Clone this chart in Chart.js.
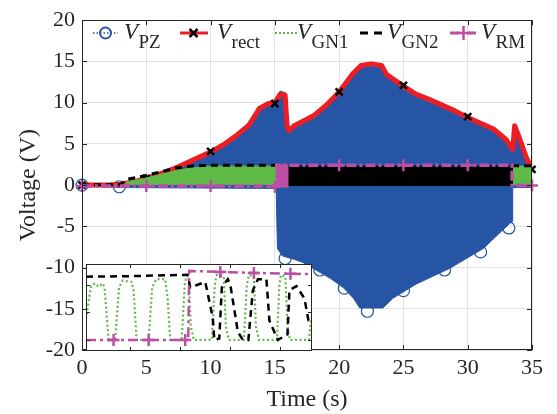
<!DOCTYPE html>
<html>
<head>
<meta charset="utf-8">
<script src="https://cdn.jsdelivr.net/npm/chart.js@4.4.1/dist/chart.umd.min.js"></script>
<style>
  html, body { margin: 0; padding: 0; background: #fff; }
  #wrap { position: relative; width: 557px; height: 414px; }
  #main { position: absolute; left: 0; top: 0; }
  #inset { position: absolute; left: 86px; top: 264px; background: #fff; }
</style>
</head>
<body>
<div id="wrap">
  <canvas id="main" width="557" height="414"></canvas>
  <canvas id="inset" width="226" height="87"></canvas>
</div>
<script>
// ---- main plot data (time in s, voltage in V) ----
// V_PZ is a dense oscillation, so it is kept as its upper / lower envelope
const pzTopT = [0, 2.5, 3, 4, 5, 6, 7, 8, 9, 10, 11, 12, 13, 13.8, 14.5, 15, 15.4, 15.8, 15.9, 16.0, 16.5, 17, 18, 19, 20, 21, 21.7, 22.5, 23.3, 23.7, 25, 26, 27, 28, 29, 30, 31, 32, 33, 33.5, 33.65, 34, 34.5, 35];
const pzTopV = [0, 0, 0.1, 0.4, 0.8, 1.2, 1.8, 2.4, 3.1, 3.8, 4.7, 5.8, 7.0, 9.0, 9.7, 10.0, 11.4, 11.2, 7.0, 6.3, 6.9, 7.3, 8.1, 9.4, 11.0, 13.1, 14.2, 14.4, 14.2, 13.1, 11.7, 10.7, 10.1, 9.4, 8.7, 7.9, 7.2, 6.5, 5.2, 4.0, 7.0, 5.5, 3.3, 1.5];
const pzBotT = [0, 3, 15.1, 15.2, 15.6, 16.5, 17.2, 18.3, 19.3, 20.3, 21.1, 21.6, 23.4, 24.2, 26, 28.6, 31.2, 33.3, 33.45, 33.5, 35];
const pzBotV = [0, -0.3, -0.4, -7.7, -8.6, -9.0, -9.4, -10.4, -11.3, -12.4, -13.7, -14.9, -14.9, -13.7, -12.0, -10.1, -7.7, -4.6, -4.4, -0.3, -0.3];
const pzMarkT = [0, 2.9, 15.8, 18.5, 20.4, 22.2, 25.0, 28.2, 31.0, 33.2];
const pzMarkV = [0, -0.2, -8.9, -10.3, -12.5, -15.3, -12.8, -10.3, -8.1, -5.2];

const rectT = [0, 2, 3, 4, 5, 6, 7, 8, 9, 10, 11, 12, 13, 13.8, 14.5, 15, 15.4, 15.8, 15.95, 16.1, 16.5, 17, 18, 19, 20, 21, 21.7, 22.5, 23.3, 23.7, 25, 26, 27, 28, 29, 30, 31, 32, 33, 33.5, 33.65, 34, 34.5, 35];
const rectV = [0, 0, 0.1, 0.4, 0.8, 1.3, 1.9, 2.6, 3.3, 4.0, 4.9, 6.0, 7.3, 9.3, 9.9, 10.0, 11.0, 10.9, 7.2, 6.6, 7.2, 7.6, 8.4, 9.7, 11.3, 13.4, 14.5, 14.7, 14.5, 13.4, 12.0, 11.0, 10.4, 9.7, 9.0, 8.2, 7.5, 6.8, 5.5, 4.3, 7.2, 5.8, 3.6, 1.8];
const rectMarkT = [0, 5, 10, 15, 20, 25, 30, 35];
const rectMarkV = [0, 0.8, 4.1, 9.9, 11.3, 12.1, 8.3, 1.9];

// V_GN1 oscillation band (top edge), two pieces
const gn1T = [3.3, 3.5, 4.8, 6.1, 7.4, 8.7, 10, 15.15, 15.15, 15.5, 33.45, 33.45, 35];
const gn1V = [0, 0.4, 0.8, 1.3, 1.8, 2.1, 2.3, 2.3, 0, null, 0, 2.3, 2.3];
// V_GN2 envelope line and its oscillation band
const gn2T = [0, 3, 3.5, 4.8, 6.1, 7.4, 8.7, 10, 15.15, 15.5, 33.45, 35];
const gn2V = [0, 0.1, 0.7, 1.1, 1.6, 2.1, 2.35, 2.4, 2.4, null, 2.35, 2.35];
const gn2BandT = [16.0, 16.0, 33.45, 33.45];
const gn2BandV = [0, 2.3, 2.3, 0];
// V_RM
const rmT = [0, 15.15, 15.15, 33.45, 33.45, 35];
const rmV = [-0.1, -0.1, 2.4, 2.4, -0.05, -0.05];
const rmBandT = [15.15, 15.15, 16.0, 16.0];
const rmBandV = [-0.3, 2.45, 2.45, -0.3];
const rmMarkT = [0, 5, 10, 15, 20, 25, 30, 35];
const rmMarkV = [-0.1, -0.1, -0.1, -0.2, 2.4, 2.4, 2.4, -0.05];

const xTicks = [0, 5, 10, 15, 20, 25, 30, 35];
const yTicks = [-20, -15, -10, -5, 0, 5, 10, 15, 20];
const legendNames = ['PZ', 'rect', 'GN1', 'GN2', 'RM'];

// ---- inset data (zoom around the switching instant) ----
const inGn1T = [15.012, 15.022, 15.030, 15.037, 15.045, 15.049, 15.057, 15.070, 15.078, 15.085, 15.103, 15.107, 15.113, 15.137, 15.144, 15.152, 15.170, 15.175, 15.180, 15.203, 15.209, 15.212, 15.217, 15.221, 15.227, 15.263, 15.269, 15.273, 15.287, 15.291, 15.297, 15.327, 15.333, 15.337, 15.347, 15.351, 15.357, 15.393, 15.398, 15.401, 15.410, 15.414, 15.419, 15.457, 15.461];
const inGn1V = [0.76, 1.95, 2.05, 1.93, 2.05, 1.9, 0, 0, 1.9, 2.15, 2.1, 1.8, 0, 0, 1.9, 2.2, 2.2, 1.5, 0, 0, 2.0, 2.3, 2.3, 0.5, 0, 0, 2.0, 2.35, 2.3, 0.5, 0, 0, 2.0, 2.35, 2.3, 0.5, 0, 0, 2.0, 2.35, 2.3, 0.5, 0, 0, 0.8];
const inGn2T = [15.012, 15.100, 15.215, 15.220, 15.235, 15.250, 15.265, 15.268, 15.278, 15.283, 15.295, 15.300, 15.315, 15.325, 15.336, 15.345, 15.355, 15.372, 15.378, 15.395, 15.414, 15.418, 15.432, 15.448, 15.456, 15.463];
const inGn2V = [2.29, 2.31, 2.36, 1.9, 2.0, 2.1, 0.8, 0, 0.05, 1.9, 2.2, 2.0, 0.3, 0, 0, 1.8, 2.2, 2.2, 0.7, 0, 0.2, 1.8, 1.95, 1.5, 0.7, 0.6];
const inRmT = [15.012, 15.216, 15.218, 15.300, 15.463];
const inRmV = [0, 0, 2.5, 2.45, 2.38];
const inRmMarkT = [15.067, 15.137, 15.210, 15.280, 15.347, 15.420];
const inRmMarkV = [0, 0, 0, 2.46, 2.42, 2.4];
const inXTicks = [15.1, 15.2, 15.3, 15.4];
const inYTicks = [0, 1, 2];

const FONT = '"Liberation Serif", "Times New Roman", serif';
const INK = '#262626';
const BLUE = '#2655a6', RED = '#ee1d23', GREEN = '#5fb947', MAG = '#bd4ea6';

function pts(t, v) { return t.map((x, i) => ({ x: x, y: v[i] })); }

// box + inward ticks on all four sides, like the original figure
const frame = {
  id: 'frame',
  afterDraw(chart, args, opts) {
    const { ctx, chartArea: a, scales } = chart;
    const L = opts.len;
    ctx.save();
    ctx.strokeStyle = INK;
    ctx.lineWidth = 1;
    ctx.beginPath();
    for (const v of opts.xTicks) {
      const px = Math.round(scales.x.getPixelForValue(v)) + 0.5;
      ctx.moveTo(px, a.bottom); ctx.lineTo(px, a.bottom - L);
      ctx.moveTo(px, a.top); ctx.lineTo(px, a.top + L);
    }
    for (const v of opts.yTicks) {
      const py = Math.round(scales.y.getPixelForValue(v)) + 0.5;
      ctx.moveTo(a.left, py); ctx.lineTo(a.left + L, py);
      ctx.moveTo(a.right, py); ctx.lineTo(a.right - L, py);
    }
    ctx.stroke();
    ctx.strokeRect(Math.round(a.left) + 0.5, Math.round(a.top) + 0.5, Math.round(a.width) - 1, Math.round(a.height) - 1);
    ctx.restore();
  }
};

// horizontal legend with V + subscript
const subLegend = {
  id: 'subLegend',
  afterDraw(chart) {
    const ctx = chart.ctx;
    const y = 33;
    ctx.save();
    ctx.lineCap = 'butt';
    // PZ
    ctx.strokeStyle = BLUE; ctx.lineWidth = 1.5; ctx.setLineDash([1.5, 2]);
    ctx.beginPath(); ctx.moveTo(93, y); ctx.lineTo(118, y); ctx.stroke();
    ctx.setLineDash([]); ctx.lineWidth = 2;
    ctx.beginPath(); ctx.arc(105.5, y, 5.5, 0, Math.PI * 2); ctx.stroke();
    // rect
    ctx.strokeStyle = RED; ctx.lineWidth = 3;
    ctx.beginPath(); ctx.moveTo(180, y); ctx.lineTo(208, y); ctx.stroke();
    ctx.strokeStyle = '#000'; ctx.lineWidth = 2.5;
    ctx.beginPath();
    ctx.moveTo(189.5, y - 4); ctx.lineTo(197.5, y + 4);
    ctx.moveTo(197.5, y - 4); ctx.lineTo(189.5, y + 4);
    ctx.stroke();
    // GN1
    ctx.strokeStyle = GREEN; ctx.lineWidth = 2; ctx.setLineDash([2, 2]);
    ctx.beginPath(); ctx.moveTo(275, y); ctx.lineTo(297, y); ctx.stroke();
    // GN2
    ctx.strokeStyle = '#000'; ctx.lineWidth = 3; ctx.setLineDash([8, 6]);
    ctx.beginPath(); ctx.moveTo(360, y); ctx.lineTo(388, y); ctx.stroke();
    // RM
    ctx.strokeStyle = MAG; ctx.lineWidth = 3; ctx.setLineDash([9, 3, 2, 3]);
    ctx.beginPath(); ctx.moveTo(450, y); ctx.lineTo(478, y); ctx.stroke();
    ctx.setLineDash([]); ctx.lineWidth = 2.5;
    ctx.beginPath();
    ctx.moveTo(463.5, y - 7); ctx.lineTo(463.5, y + 7);
    ctx.moveTo(456.5, y); ctx.lineTo(470.5, y);
    ctx.stroke();
    // text
    const vx = [124, 217, 297, 387, 481];
    ctx.fillStyle = INK;
    ctx.textBaseline = 'alphabetic';
    ctx.textAlign = 'left';
    legendNames.forEach((name, i) => {
      ctx.font = 'italic 23px ' + FONT;
      ctx.fillText('V', vx[i], 39);
      const w = ctx.measureText('V').width;
      ctx.font = '19px ' + FONT;
      ctx.fillText(name, vx[i] + w + 0.5, 48);
    });
    ctx.restore();
  }
};

function band(t, v, color, order, fillTo) {
  return {
    data: pts(t, v), borderColor: color, backgroundColor: color, borderWidth: 1,
    pointRadius: 0, fill: fillTo === undefined ? 'origin' : { value: fillTo }, order: order
  };
}
function marks(t, v, style, r, color, w, order) {
  return {
    data: pts(t, v), showLine: false, pointStyle: style, pointRadius: r,
    borderColor: color, backgroundColor: 'rgba(0,0,0,0)', pointBorderWidth: w,
    order: order, clip: false
  };
}

new Chart(document.getElementById('main'), {
  type: 'line',
  data: {
    datasets: [
      band(pzTopT, pzTopV, BLUE, 10),
      band(pzBotT, pzBotV, BLUE, 10),
      marks(pzMarkT, pzMarkV, 'circle', 6, BLUE, 1.2, 9.5),
      { data: pts(rectT, rectV), borderColor: RED, borderWidth: 5, pointRadius: 0, fill: false, order: 9, borderJoinStyle: 'round' },
      marks(rectMarkT, rectMarkV, 'crossRot', 5, '#000', 2.5, 8.5),
      band(gn1T, gn1V, GREEN, 8),
      band(gn2BandT, gn2BandV, '#000', 7, -0.1),
      { data: pts(gn2T, gn2V), borderColor: '#000', borderWidth: 3, borderDash: [7, 5], pointRadius: 0, fill: false, order: 6.5 },
      band(rmBandT, rmBandV, MAG, 6, -0.3),
      { data: pts(rmT, rmV), borderColor: MAG, borderWidth: 3.5, borderDash: [10, 3, 3, 3], pointRadius: 0, fill: false, order: 5.5 },
      marks(rmMarkT, rmMarkV, 'cross', 6, MAG, 2.5, 5)
    ]
  },
  options: {
    responsive: false,
    animation: false,
    devicePixelRatio: 1,
    events: [],
    layout: { autoPadding: false, padding: { left: 0, right: 25, top: 15, bottom: 0 } },
    plugins: {
      legend: { display: false },
      tooltip: { enabled: false },
      frame: { len: 5, xTicks: xTicks, yTicks: yTicks }
    },
    scales: {
      x: {
        type: 'linear', min: 0, max: 35,
        afterBuildTicks: s => { s.ticks = xTicks.map(v => ({ value: v })); },
        afterFit: s => { s.height = 64; },
        ticks: { font: { family: FONT, size: 22 }, color: INK, padding: 5, maxRotation: 0 },
        grid: { color: '#e2e2e2', drawTicks: false },
        border: { display: false },
        title: { display: true, text: 'Time (s)', font: { family: FONT, size: 24 }, color: INK, padding: { top: 0, bottom: 0 } }
      },
      y: {
        type: 'linear', min: -20, max: 20,
        afterBuildTicks: s => { s.ticks = yTicks.map(v => ({ value: v })); },
        afterFit: s => { s.width = 82; },
        ticks: { font: { family: FONT, size: 22 }, color: INK, padding: 7 },
        grid: { color: '#e2e2e2', drawTicks: false },
        border: { display: false },
        title: { display: true, text: 'Voltage (V)', font: { family: FONT, size: 24 }, color: INK, padding: { top: 14, bottom: 0 } }
      }
    }
  },
  plugins: [frame, subLegend]
});

new Chart(document.getElementById('inset'), {
  type: 'line',
  data: {
    datasets: [
      { data: pts(inGn1T, inGn1V), borderColor: GREEN, borderWidth: 2.2, borderDash: [2, 2.5], pointRadius: 0, fill: false, order: 3 },
      { data: pts(inGn2T, inGn2V), borderColor: '#000', borderWidth: 2.5, borderDash: [7, 5], pointRadius: 0, fill: false, order: 2 },
      { data: pts(inRmT, inRmV), borderColor: MAG, borderWidth: 2.5, borderDash: [10, 4, 3, 4], pointRadius: 0, fill: false, order: 1.5 },
      marks(inRmMarkT, inRmMarkV, 'cross', 6, MAG, 2.5, 1)
    ]
  },
  options: {
    responsive: false,
    animation: false,
    devicePixelRatio: 1,
    events: [],
    layout: { autoPadding: false, padding: 0 },
    plugins: {
      legend: { display: false },
      tooltip: { enabled: false },
      frame: { len: 4, xTicks: inXTicks, yTicks: inYTicks }
    },
    scales: {
      x: { type: 'linear', display: false, min: 15.012, max: 15.463 },
      y: { type: 'linear', display: false, min: -0.4, max: 2.75 }
    }
  },
  plugins: [frame]
});
</script>
</body>
</html>
